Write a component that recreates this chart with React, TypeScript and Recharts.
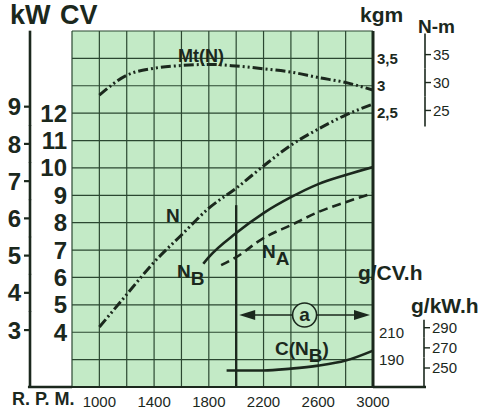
import React from 'react';
import { LineChart, Line, XAxis, YAxis, CartesianGrid, ReferenceLine, ReferenceDot } from 'recharts';

const INK = '#1b281d';
const PAPER = '#c3eac6';
const GRID = '#2b4731';
const FONT = '"Liberation Sans", Arial, sans-serif';

const KW_PER_CV = 0.7355;
const NM_PER_KGM = 9.807;

// axis ticks
const rpmTicks = [800, 1000, 1200, 1400, 1600, 1800, 2000, 2200, 2400, 2600, 2800, 3000];
const rpmLabels = [1000, 1400, 1800, 2200, 2600, 3000];
const cvTicks = [2, 3, 4, 5, 6, 7, 8, 9, 10, 11, 12, 13, 14, 15];
const cvLabels = [4, 5, 6, 7, 8, 9, 10, 11, 12];
const kwTicks = [3, 4, 5, 6, 7, 8, 9];
const kgmTicks = [2.5, 3, 3.5];
const nmTicks = [25, 30, 35];
const gcvTicks = [190, 210];
const gkwhTicks = [250, 270, 290];

// the scales all share the same grid: CV 2..15, kgm 3 on CV 13 (0.5 per row), 210 g/CV.h on CV 4 (20 per row)
const CV_DOMAIN = [2, 15];
const KW_DOMAIN = [2 * KW_PER_CV, 15 * KW_PER_CV];
const KGM_DOMAIN = [-2.5, 4];
const NM_DOMAIN = [-2.5 * NM_PER_KGM, 4 * NM_PER_KGM];
const GCV_DOMAIN = [170, 430];
const GKWH_DOMAIN = [170 / KW_PER_CV, 430 / KW_PER_CV];

// curves
const torque = [
  { rpm: 1000, kgm: 2.83 }, { rpm: 1200, kgm: 3.19 }, { rpm: 1400, kgm: 3.32 },
  { rpm: 1600, kgm: 3.37 }, { rpm: 1800, kgm: 3.39 }, { rpm: 2000, kgm: 3.36 },
  { rpm: 2200, kgm: 3.31 }, { rpm: 2400, kgm: 3.25 }, { rpm: 2600, kgm: 3.15 },
  { rpm: 2800, kgm: 3.06 }, { rpm: 3000, kgm: 2.92 },
];
const powerN = [
  { rpm: 1000, cv: 4.19 }, { rpm: 1200, cv: 5.38 }, { rpm: 1400, cv: 6.56 },
  { rpm: 1600, cv: 7.55 }, { rpm: 1800, cv: 8.53 }, { rpm: 2000, cv: 9.26 },
  { rpm: 2200, cv: 10.07 }, { rpm: 2400, cv: 10.83 }, { rpm: 2600, cv: 11.42 },
  { rpm: 2800, cv: 11.93 }, { rpm: 3000, cv: 12.33 },
];
const powerNB = [
  { rpm: 1760, cv: 6.5 }, { rpm: 1800, cv: 6.74 }, { rpm: 2000, cv: 7.62 },
  { rpm: 2200, cv: 8.35 }, { rpm: 2400, cv: 8.93 }, { rpm: 2600, cv: 9.41 },
  { rpm: 2800, cv: 9.74 }, { rpm: 3000, cv: 10.03 },
];
const powerNA = [
  { rpm: 1890, cv: 6.45 }, { rpm: 2000, cv: 6.74 }, { rpm: 2200, cv: 7.44 },
  { rpm: 2400, cv: 7.91 }, { rpm: 2600, cv: 8.39 }, { rpm: 2800, cv: 8.75 },
  { rpm: 3000, cv: 9.08 },
];
const consumption = [
  { rpm: 1930, g: 182 }, { rpm: 2200, g: 182 }, { rpm: 2400, g: 183.4 },
  { rpm: 2600, g: 185.6 }, { rpm: 2800, g: 189.3 }, { rpm: 3000, g: 196.6 },
];

// range "a" and the marker at 2000 rpm
const RANGE_A = [2000, 3000];
const RANGE_A_LEVEL = 4.63;
const MARKER_TOP = 8.64;
const BASELINE = [478, 3384];

// text placed in chart units (rpm, CV)
const notes = [
  { text: 'Mt(N)', rpm: 1575, cv: 13.87, size: 18 },
  { text: 'N', rpm: 1538, cv: 8.03, size: 19, anchor: 'middle' },
  { text: 'N', sub: 'B', rpm: 1567, cv: 5.98, size: 19 },
  { text: 'N', sub: 'A', rpm: 2189, cv: 6.71, size: 19 },
  { text: 'C(N', sub: 'B', after: ')', rpm: 2284, cv: 3.17, size: 19 },
  { text: 'g/CV.h', rpm: 2890, cv: 5.91, size: 21 },
  { text: 'g/kW.h', rpm: 3278, cv: 4.7, size: 21 },
  { text: 'kgm', rpm: 2905, cv: 15.33, size: 21 },
  { text: 'N-m', rpm: 3329, cv: 14.93, size: 19 },
  { text: 'kW', rpm: 347, cv: 15.26, size: 27 },
  { text: 'CV', rpm: 712, cv: 15.26, size: 27 },
  { text: 'R. P. M.', rpm: 361, cv: 1.34, size: 18 },
];

const Note = ({ cx, cy, note }: any) => (
  <text x={cx} y={cy} fontSize={note.size} fontWeight="bold" fill={INK} fontFamily={FONT}
    textAnchor={note.anchor || 'start'}>
    {note.text}
    {note.sub && <tspan dy={note.size * 0.35}>{note.sub}</tspan>}
    {note.after && <tspan dy={-note.size * 0.35}>{note.after}</tspan>}
  </text>
);

const RangeArrow = (p: any) => {
  const { x1, y1, x2 } = p;
  const mid = (x1 + x2) / 2;
  const r = 12;
  return (
    <g>
      <line x1={x1 + 12} y1={y1} x2={mid - r} y2={y1} stroke={INK} strokeWidth={1.6} />
      <line x1={mid + r} y1={y1} x2={x2 - 12} y2={y1} stroke={INK} strokeWidth={1.6} />
      <polygon points={`${x1 + 3},${y1} ${x1 + 19},${y1 - 5} ${x1 + 19},${y1 + 5}`} fill={INK} />
      <polygon points={`${x2 - 3},${y1} ${x2 - 19},${y1 - 5} ${x2 - 19},${y1 + 5}`} fill={INK} />
      <circle cx={mid} cy={y1} r={r} fill={PAPER} stroke={INK} strokeWidth={1.6} />
      <text x={mid} y={y1} dy="0.33em" textAnchor="middle" fontSize={19} fontWeight="bold" fill={INK} fontFamily={FONT}>a</text>
    </g>
  );
};

// tick with its own piece of axis line, for the short N-m and g/kW.h scales
const SideTick = (props: any) => {
  const { x, y, payload, reach } = props;
  const ax = x - 8;
  const [up, down] = reach[payload.value] || [10, 10];
  return (
    <g>
      <line x1={ax} y1={y - up} x2={ax} y2={y + down} stroke={INK} strokeWidth={1.6} />
      <line x1={ax} y1={y} x2={ax + 6} y2={y} stroke={INK} strokeWidth={1.4} />
      <text x={x} y={y} dy="0.35em" fontSize={15} fill={INK} fontFamily={FONT}>{payload.value}</text>
    </g>
  );
};

// same idea for the kW scale on the left, whose line runs the full height
const KwTick = (props: any) => {
  const { x, y, payload, reach } = props;
  const ax = x + 9;
  const [up, down] = reach[payload.value] || [19, 19];
  return (
    <g>
      <line x1={ax} y1={y - up} x2={ax} y2={y + down} stroke={INK} strokeWidth={2.6} />
      <line x1={ax - 6} y1={y} x2={ax} y2={y} stroke={INK} strokeWidth={2.2} />
      <text x={x} y={y} dy="0.36em" textAnchor="end" fontSize={24} fontWeight="bold" fill={INK} fontFamily={FONT}>
        {payload.value}
      </text>
    </g>
  );
};

// baseline runs on past the grid, under the left and right scales
const RpmTick = (props: any) => {
  const { x, y, payload } = props;
  const by = y - 6;
  return (
    <g>
      {payload.value === 800 && <line x1={x - 44} y1={by} x2={x} y2={by} stroke={INK} strokeWidth={2.4} />}
      {payload.value === 3000 && <line x1={x} y1={by} x2={x + 53} y2={by} stroke={INK} strokeWidth={2.4} />}
      {rpmLabels.includes(payload.value) && (
        <text x={x} y={y} dy="0.9em" textAnchor="middle" fontSize={15} fill={INK} fontFamily={FONT}>{payload.value}</text>
      )}
    </g>
  );
};

const nmReach: any = { 35: [21, 14], 30: [14, 14], 25: [14, 16] };
const gkwhReach: any = { 290: [8, 10], 270: [10, 10], 250: [10, 20] };
const kwReach: any = { 9: [76, 19], 3: [19, 57] };

const dashDot = '10 3 2 3 2 3';

export default function App() {
  return (
    <div style={{ position: 'absolute', left: 0, top: 0, fontFamily: FONT }}>
      <LineChart width={483} height={409} margin={{ top: 31, right: 0, bottom: 0, left: 0 }}>
        <CartesianGrid yAxisId="l1_cv" fill={PAPER} fillOpacity={1} stroke={GRID} strokeWidth={1.2} />
        <XAxis
          dataKey="rpm" type="number" domain={[800, 3000]} allowDataOverflow ticks={rpmTicks} interval={0}
          axisLine={{ stroke: INK, strokeWidth: 2 }} tickLine={false} tickSize={0} tickMargin={6} height={22}
          tick={(p: any) => <RpmTick {...p} />}
        />
        <YAxis
          yAxisId="l1_cv" orientation="left" width={42} domain={CV_DOMAIN} allowDataOverflow ticks={cvTicks} interval={0}
          tickFormatter={(v: number) => (cvLabels.includes(v) ? String(v) : '')}
          axisLine={false} tickLine={false} tickSize={0} tickMargin={5}
          tick={{ fontSize: 24, fontWeight: 'bold', fill: INK, fontFamily: FONT }}
        />
        <YAxis
          yAxisId="l2_kw" orientation="left" width={30} domain={KW_DOMAIN} allowDataOverflow ticks={kwTicks} interval={0}
          axisLine={false} tickLine={false} tickSize={6} tickMargin={3}
          tick={(p: any) => <KwTick {...p} reach={kwReach} />}
        />
        <YAxis
          yAxisId="r1_gcv" orientation="right" width={1} domain={GCV_DOMAIN} allowDataOverflow ticks={gcvTicks} interval={0}
          axisLine={false} tickLine={false} tickSize={0} tickMargin={6}
          tick={{ fontSize: 15, fill: INK, fontFamily: FONT }}
        />
        <YAxis
          yAxisId="r2_kgm" orientation="right" width={50} domain={KGM_DOMAIN} allowDataOverflow ticks={kgmTicks} interval={0}
          tickFormatter={(v: number) => String(v).replace('.', ',')}
          axisLine={false} tickLine={false} tickSize={0} tickMargin={3}
          tick={{ fontSize: 15, fontWeight: 'bold', fill: INK, fontFamily: FONT }}
        />
        <YAxis
          yAxisId="r3_gkwh" orientation="right" width={1} domain={GKWH_DOMAIN} allowDataOverflow ticks={gkwhTicks} interval={0}
          axisLine={false} tickLine={false} tickSize={6} tickMargin={2}
          tick={(p: any) => <SideTick {...p} reach={gkwhReach} />}
        />
        <YAxis
          yAxisId="r4_nm" orientation="right" width={58} domain={NM_DOMAIN} allowDataOverflow ticks={nmTicks} interval={0}
          axisLine={false} tickLine={false} tickSize={6} tickMargin={2}
          tick={(p: any) => <SideTick {...p} reach={nmReach} />}
        />

        <ReferenceLine yAxisId="l1_cv" ifOverflow="visible" stroke={INK} strokeWidth={2.2}
          segment={[{ x: BASELINE[0], y: 2 }, { x: BASELINE[1], y: 2 }]} />
        <ReferenceLine yAxisId="l1_cv" x={3000} stroke={INK} strokeWidth={3} />
        <ReferenceLine yAxisId="l1_cv" stroke={INK} strokeWidth={2.4}
          segment={[{ x: RANGE_A[0], y: MARKER_TOP }, { x: RANGE_A[0], y: 2 }]} />
        <ReferenceLine yAxisId="l1_cv" shape={RangeArrow}
          segment={[{ x: RANGE_A[0], y: RANGE_A_LEVEL }, { x: RANGE_A[1], y: RANGE_A_LEVEL }]} />

        <Line data={torque} yAxisId="r2_kgm" dataKey="kgm" type="monotone" stroke={INK} strokeWidth={3}
          strokeDasharray={dashDot} dot={false} isAnimationActive={false} />
        <Line data={powerN} yAxisId="l1_cv" dataKey="cv" type="monotone" stroke={INK} strokeWidth={3}
          strokeDasharray={dashDot} dot={false} isAnimationActive={false} />
        <Line data={powerNB} yAxisId="l1_cv" dataKey="cv" type="monotone" stroke={INK} strokeWidth={2.6}
          dot={false} isAnimationActive={false} />
        <Line data={powerNA} yAxisId="l1_cv" dataKey="cv" type="monotone" stroke={INK} strokeWidth={2.6}
          strokeDasharray="9 5" dot={false} isAnimationActive={false} />
        <Line data={consumption} yAxisId="r1_gcv" dataKey="g" type="monotone" stroke={INK} strokeWidth={2.6}
          dot={false} isAnimationActive={false} />

        {notes.map((n, i) => (
          <ReferenceDot key={i} yAxisId="l1_cv" x={n.rpm} y={n.cv} r={0} ifOverflow="visible"
            shape={(p: any) => <Note {...p} note={n} />} />
        ))}
      </LineChart>
    </div>
  );
}
